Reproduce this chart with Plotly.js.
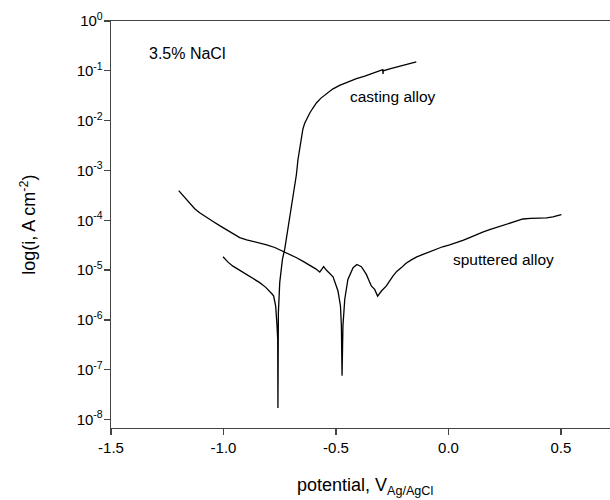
<!DOCTYPE html>
<html>
<head>
<meta charset="utf-8">
<script src="https://cdn.plot.ly/plotly-3.0.1.min.js"></script>
<style>html,body{margin:0;padding:0;background:#fff;}#chart{width:610px;height:500px;}</style>
</head>
<body>
<div id="chart"></div>
<script>
// Sputtered alloy polarisation curve (potential V vs Ag/AgCl, current density A cm^-2)
const sputteredPotential = [-1.199, -1.172, -1.150, -1.128, -1.106, -1.075, -1.048, -1.017, -0.986, -0.959, -0.928, -0.897, -0.870, -0.839, -0.808, -0.772, -0.737, -0.706, -0.675, -0.648, -0.617, -0.590, -0.572, -0.555, -0.543, -0.513, -0.491, -0.480, -0.476, -0.473, -0.469, -0.461, -0.447, -0.424, -0.407, -0.387, -0.365, -0.343, -0.328, -0.315, -0.298, -0.276, -0.247, -0.230, -0.209, -0.190, -0.165, -0.141, -0.113, -0.084, -0.054, -0.026, 0.005, 0.036, 0.064, 0.094, 0.124, 0.152, 0.183, 0.219, 0.257, 0.294, 0.331, 0.365, 0.405, 0.436, 0.464, 0.502];
const sputteredCurrent = [3.93e-4, 2.84e-4, 2.16e-4, 1.71e-4, 1.41e-4, 1.13e-4, 9.55e-5, 7.8e-5, 6.5e-5, 5.4e-5, 4.5e-5, 4.05e-5, 3.8e-5, 3.53e-5, 3.22e-5, 2.84e-5, 2.42e-5, 2.11e-5, 1.77e-5, 1.51e-5, 1.27e-5, 1.06e-5, 9.1e-6, 1.17e-5, 1.0e-5, 7.3e-6, 3.8e-6, 1.9e-6, 7.6e-7, 7.6e-8, 7.6e-7, 2.6e-6, 6.5e-6, 1.12e-5, 1.30e-5, 1.17e-5, 8.2e-6, 4.8e-6, 4.1e-6, 3.0e-6, 3.8e-6, 4.8e-6, 7.6e-6, 9.4e-6, 1.12e-5, 1.36e-5, 1.6e-5, 1.84e-5, 2.06e-5, 2.33e-5, 2.68e-5, 2.94e-5, 3.22e-5, 3.53e-5, 3.93e-5, 4.5e-5, 5.2e-5, 5.8e-5, 6.5e-5, 7.3e-5, 8.2e-5, 9.4e-5, 1.06e-4, 1.09e-4, 1.09e-4, 1.12e-4, 1.17e-4, 1.30e-4];

// Casting alloy polarisation curve
const castingPotential = [-1.002, -0.981, -0.958, -0.928, -0.898, -0.870, -0.839, -0.812, -0.795, -0.783, -0.777, -0.768, -0.762, -0.759, -0.758, -0.757, -0.756, -0.750, -0.738, -0.728, -0.717, -0.706, -0.695, -0.684, -0.676, -0.669, -0.661, -0.654, -0.647, -0.639, -0.628, -0.617, -0.604, -0.587, -0.568, -0.543, -0.515, -0.484, -0.448, -0.409, -0.372, -0.336, -0.292, -0.291, -0.290, -0.257, -0.217, -0.181, -0.143];
const castingCurrent = [1.85e-5, 1.46e-5, 1.2e-5, 9.9e-6, 8.2e-6, 6.8e-6, 5.6e-6, 4.5e-6, 3.8e-6, 3.27e-6, 3.0e-6, 1.9e-6, 7.6e-7, 4.1e-7, 1.7e-8, 3.2e-7, 1.4e-6, 5.6e-6, 1.64e-5, 2.6e-5, 5.2e-5, 1.03e-4, 2.26e-4, 4.8e-4, 8.2e-4, 1.64e-3, 2.98e-3, 4.8e-3, 6.8e-3, 8.9e-3, 1.13e-2, 1.41e-2, 1.75e-2, 2.26e-2, 2.8e-2, 3.5e-2, 4.3e-2, 5.1e-2, 5.9e-2, 7.0e-2, 7.8e-2, 8.9e-2, 0.105, 0.086, 0.1, 0.111, 0.122, 0.136, 0.151];

// Axis ticks
const xTickVals = [-1.5, -1.0, -0.5, 0.0, 0.5];
const xTickText = ['-1.5', '-1.0', '-0.5', '0.0', '0.5'];
const yTickVals = [1, 1e-1, 1e-2, 1e-3, 1e-4, 1e-5, 1e-6, 1e-7, 1e-8];
const yTickText = ['10<sup>0</sup>', '10<sup>-1</sup>', '10<sup>-2</sup>', '10<sup>-3</sup>', '10<sup>-4</sup>', '10<sup>-5</sup>', '10<sup>-6</sup>', '10<sup>-7</sup>', '10<sup>-8</sup>'];

const FONT = 'Liberation Sans, Arial, sans-serif';
const AXC = '#444';

const traces = [
  {x: sputteredPotential, y: sputteredCurrent, type: 'scatter', mode: 'lines', name: 'sputtered alloy',
   line: {color: '#000', width: 1.3}},
  {x: castingPotential, y: castingCurrent, type: 'scatter', mode: 'lines', name: 'casting alloy',
   line: {color: '#000', width: 1.3}}
];

const layout = {
  width: 610, height: 500,
  margin: {l: 111, r: 0, t: 21, b: 72, pad: 0},
  paper_bgcolor: '#fff', plot_bgcolor: '#fff',
  showlegend: false,
  font: {family: FONT, color: '#000'},
  xaxis: {
    range: [-1.5, 0.718], showgrid: false, zeroline: false,
    showline: true, linecolor: AXC, linewidth: 1.3, mirror: true,
    ticks: 'outside', ticklen: 6, tickwidth: 1.3, tickcolor: AXC,
    tickvals: xTickVals, ticktext: xTickText,
    tickfont: {family: FONT, size: 15, color: '#000'}
  },
  yaxis: {
    type: 'log', range: [-8.17, 0], showgrid: false, zeroline: false,
    showline: true, linecolor: AXC, linewidth: 1.3, mirror: false,
    ticks: 'outside', ticklen: 6, tickwidth: 1.3, tickcolor: AXC,
    tickvals: yTickVals, ticktext: yTickText, ticklabelstandoff: -2,
    tickfont: {family: FONT, size: 15, color: '#000'}
  },
  annotations: [
    {text: '3.5% NaCl', x: -1.338, y: -0.646, xref: 'x', yref: 'y', xanchor: 'left', yanchor: 'middle',
     showarrow: false, font: {family: FONT, size: 16, color: '#000'}},
    {text: 'casting alloy', x: -0.447, y: -1.52, xref: 'x', yref: 'y', xanchor: 'left', yanchor: 'middle',
     showarrow: false, font: {family: FONT, size: 15.5, color: '#000'}},
    {text: 'sputtered alloy', x: 0.01, y: -4.786, xref: 'x', yref: 'y', xanchor: 'left', yanchor: 'middle',
     showarrow: false, font: {family: FONT, size: 15.5, color: '#000'}},
    {text: 'potential, V<sub>Ag/AgCl</sub>', x: 0.509, y: -0.11, xref: 'paper', yref: 'paper',
     xanchor: 'center', yanchor: 'top', showarrow: false, font: {family: FONT, size: 18, color: '#000'}},
    {text: 'log(i, A cm<sup>-2</sup>)', x: -0.166, y: 0.5, xref: 'paper', yref: 'paper',
     xanchor: 'center', yanchor: 'middle', textangle: -90, showarrow: false,
     font: {family: FONT, size: 18, color: '#000'}}
  ]
};

Plotly.newPlot('chart', traces, layout, {displayModeBar: false, staticPlot: true});
</script>
</body>
</html>
